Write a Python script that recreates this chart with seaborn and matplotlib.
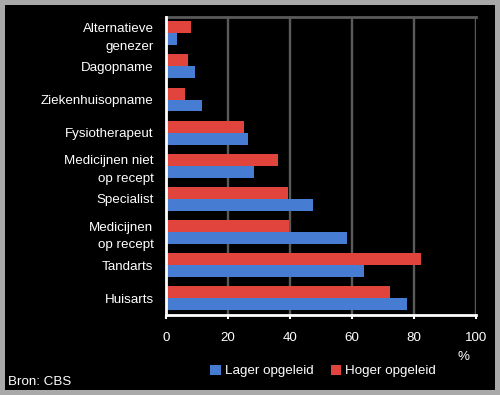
import matplotlib
matplotlib.use("Agg")
import matplotlib.pyplot as plt
from matplotlib.patches import Rectangle, Patch
import seaborn as sns
import pandas as pd

categories = ["Alternatieve\ngenezer", "Dagopname", "Ziekenhuisopname", "Fysiotherapeut",
              "Medicijnen niet\nop recept", "Specialist", "Medicijnen\nop recept",
              "Tandarts", "Huisarts"]
lager = [3.6, 9.5, 11.7, 26.6, 28.5, 47.3, 58.5, 64.0, 77.9]
hoger = [8.2, 7.2, 6.2, 25.0, 36.0, 39.5, 39.8, 82.4, 72.4]
series_names = ["Lager opgeleid", "Hoger opgeleid"]
xticks = [0, 20, 40, 60, 80, 100]

df = pd.DataFrame({
    "cat": categories * 2,
    "val": lager + hoger,
    "serie": [series_names[0]] * len(categories) + [series_names[1]] * len(categories),
})

sns.set_theme(style="dark")
plt.rcParams['font.family'] = ['Liberation Sans', 'DejaVu Sans']

BLUE = "#467dd2"
RED = "#e0443c"
GRID = "#5a5a5a"
FS = 9.6

fig = plt.figure(figsize=(5.0, 3.95), dpi=100)
fig.patch.set_facecolor("#a9a9a9")
fig.patches.append(Rectangle((5/500, 5/395), 490/500, 385/395, transform=fig.transFigure,
                             facecolor="black", edgecolor="none", zorder=-10))

ax = fig.add_axes([166/500, (395-315)/395, 310/500, (315-16.7)/395])
ax.set_facecolor("black")

sns.barplot(data=df, x="val", y="cat", hue="serie", orient="h",
            hue_order=[series_names[1], series_names[0]],
            palette={series_names[0]: BLUE, series_names[1]: RED},
            width=0.72, saturation=1, ax=ax, legend=False, zorder=3,
            edgecolor="none", linewidth=0)

ax.set_xlim(0, 100)
ax.set_ylim(8.5, -0.5)
ax.set_xticks(xticks)
ax.set_xticklabels([str(t) for t in xticks])
ax.set_xlabel("")
ax.set_ylabel("")

ax.grid(False)
for t in xticks[1:]:
    ax.axvline(t, color=GRID, lw=1.7, zorder=1)

for s in ["left", "bottom"]:
    ax.spines[s].set_visible(True)
    ax.spines[s].set_color("white")
    ax.spines[s].set_linewidth(2)
    ax.spines[s].set_zorder(5)
ax.spines["top"].set_visible(True)
ax.spines["top"].set_color(GRID)
ax.spines["top"].set_linewidth(2)
ax.spines["right"].set_visible(False)

ax.tick_params(axis="y", length=0, pad=9, labelsize=FS, labelcolor="white")
ax.tick_params(axis="x", bottom=True, length=3, width=1.5, color="white", direction="out",
               pad=9, labelsize=FS, labelcolor="white")
for lab in ax.get_yticklabels():
    lab.set_linespacing(1.65)

fig.text(463/500, 1 - 357/395, "%", color="white", fontsize=FS, ha="center", va="center")
fig.text(8/500, 1 - 382/395, "Bron: CBS", color="white", fontsize=FS, ha="left", va="center")

handles = [Patch(facecolor=BLUE, edgecolor="none"), Patch(facecolor=RED, edgecolor="none")]
fig.legend(handles, series_names, loc="center", bbox_to_anchor=(323/500, 1 - 371/395),
           ncol=2, frameon=False, fontsize=FS, labelcolor="white",
           handlelength=0.8, handleheight=0.8, handletextpad=0.3, columnspacing=1.3)

fig.savefig("out.png", dpi=100, facecolor=fig.get_facecolor())
